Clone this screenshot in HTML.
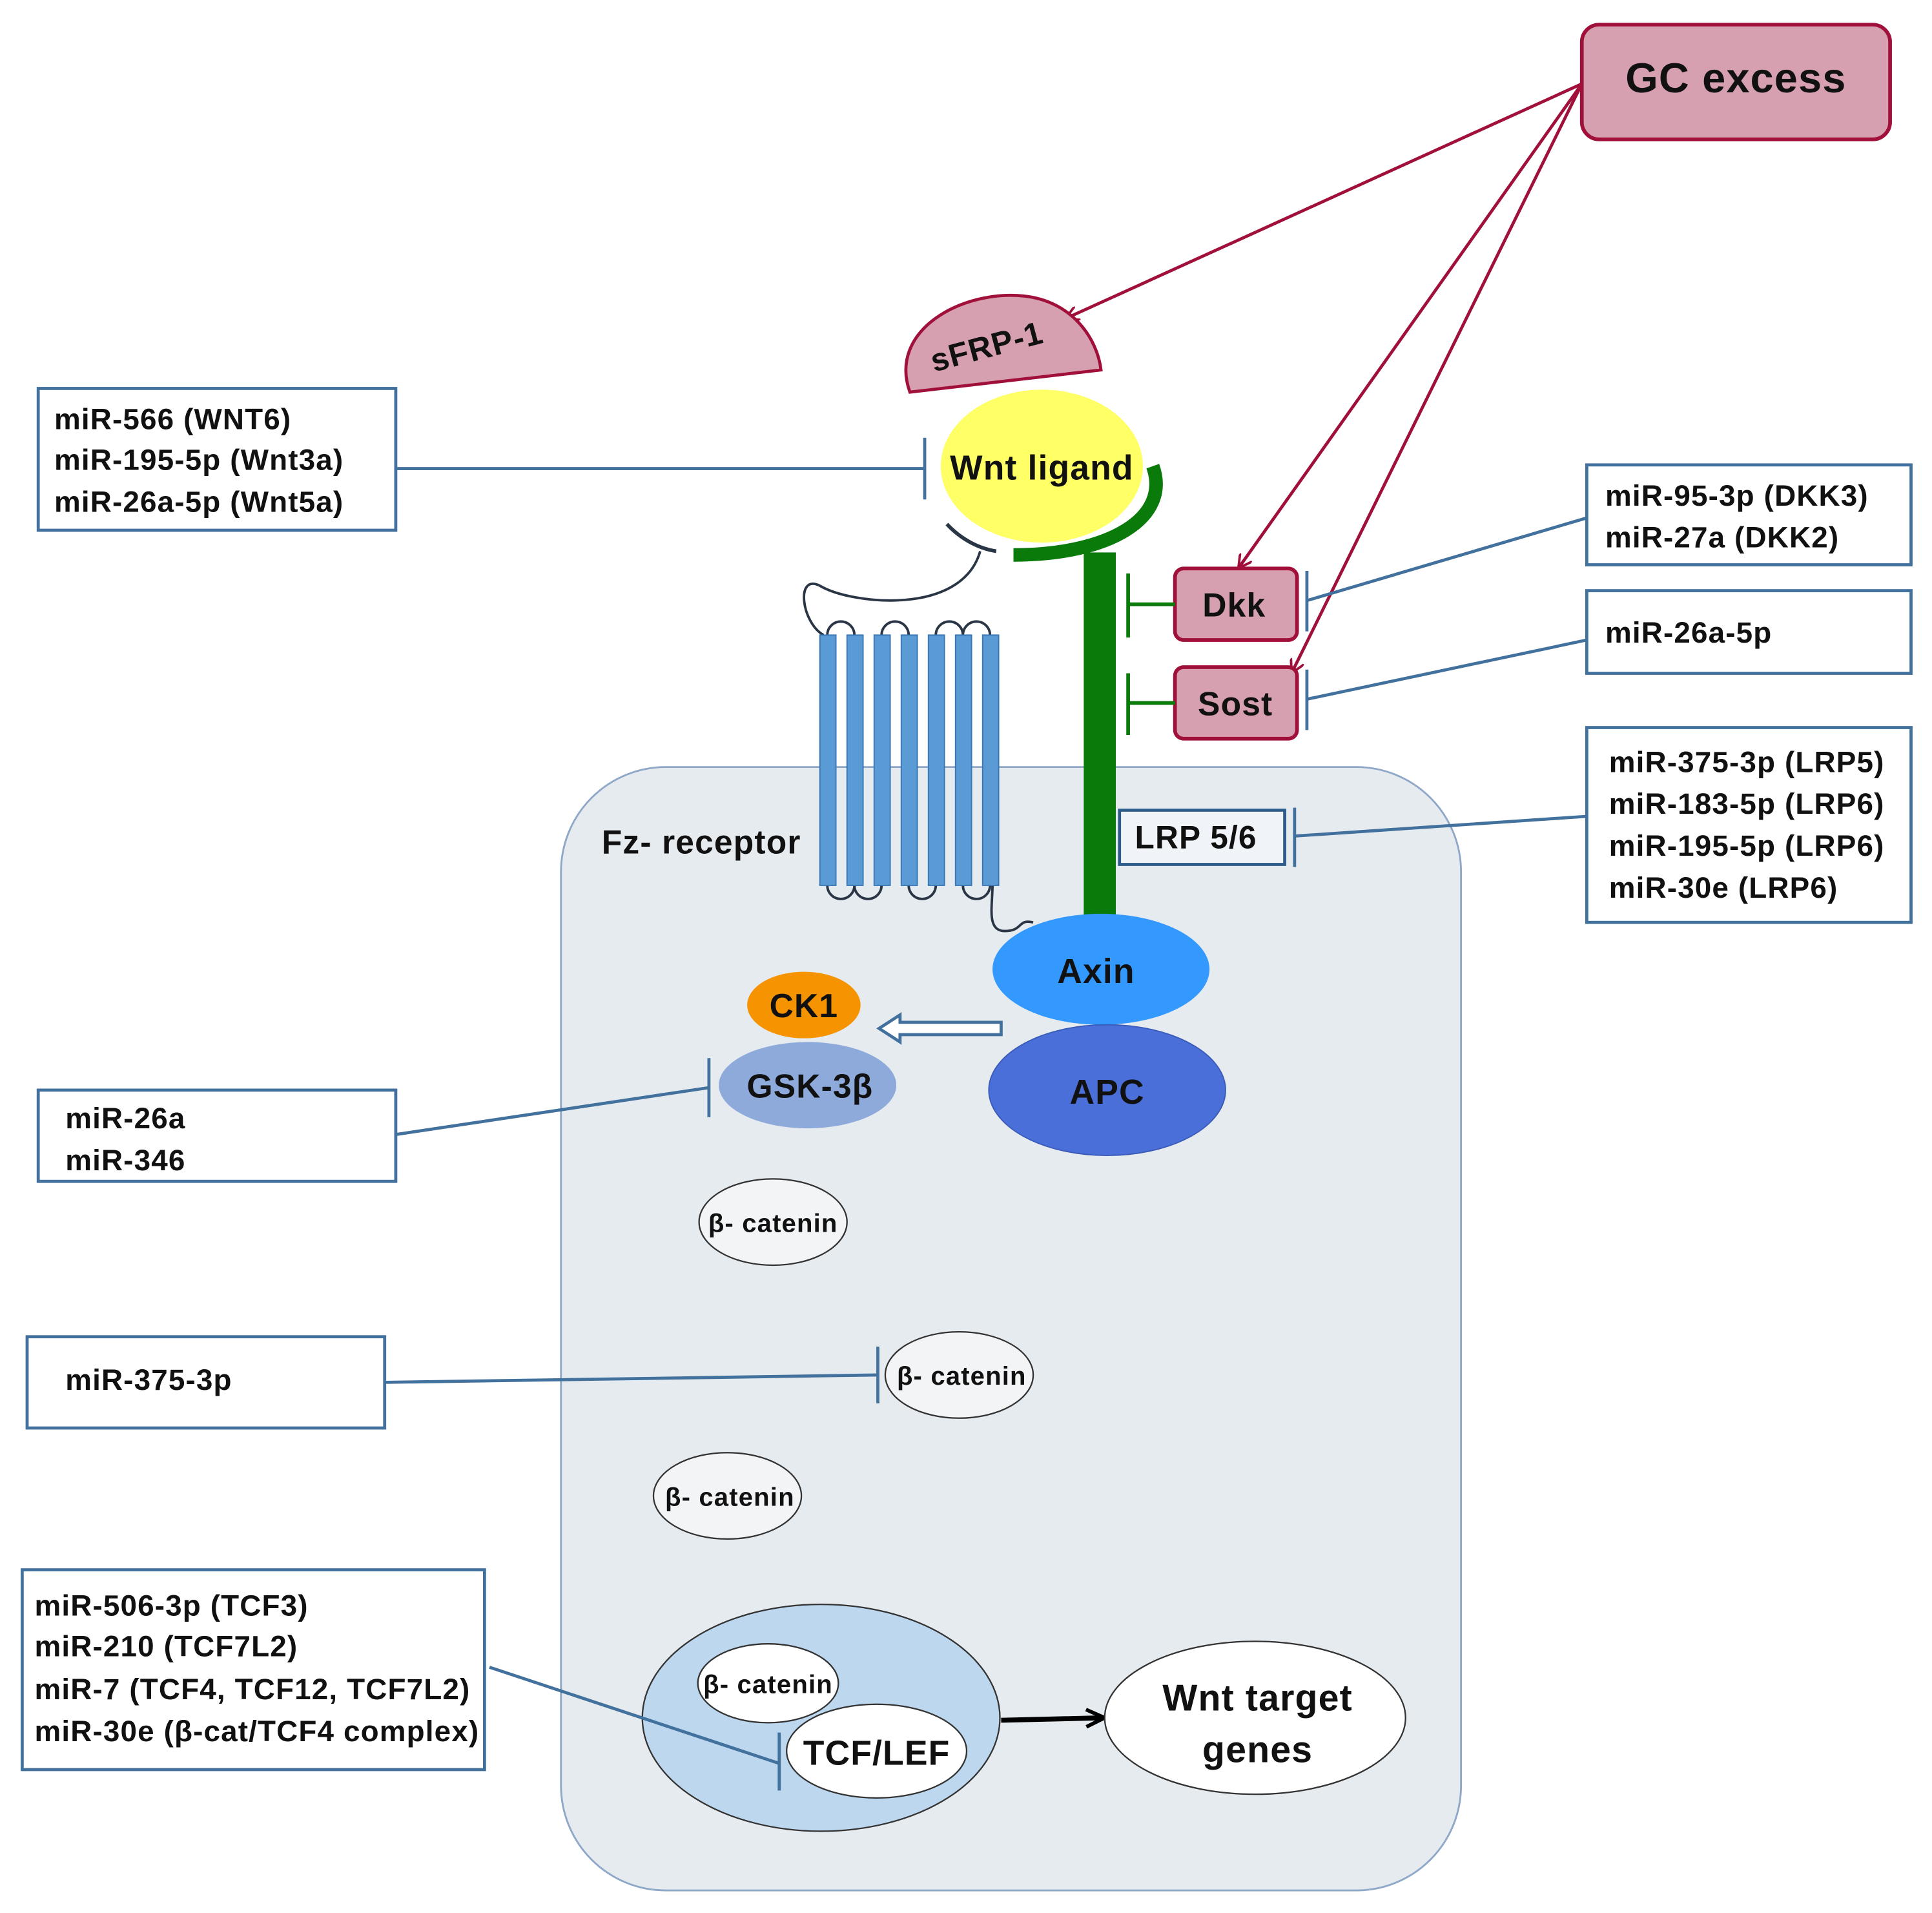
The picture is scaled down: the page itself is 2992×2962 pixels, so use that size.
<!DOCTYPE html>
<html><head><meta charset="utf-8"><style>html,body{margin:0;padding:0;background:#fff}svg{display:block}text{font-family:"Liberation Sans",sans-serif;font-weight:bold;fill:#111;letter-spacing:0.6px}</style></head>
<body>
<svg width="2992" height="2962" viewBox="0 0 1567 1551.3" preserveAspectRatio="none" xmlns="http://www.w3.org/2000/svg">
<defs>
<marker id="ar" markerWidth="12" markerHeight="12" refX="10" refY="6" orient="auto" markerUnits="userSpaceOnUse"><path d="M0,0 L11,6 L0,12" fill="none" stroke="#a0103a" stroke-width="2"/></marker>
<marker id="ab" markerWidth="20" markerHeight="20" refX="16" refY="10" orient="auto" markerUnits="userSpaceOnUse"><path d="M2,3 L17,10 L2,17" fill="none" stroke="#000" stroke-width="3"/></marker>
</defs>
<rect x="455" y="622" width="730" height="911" rx="85" fill="#e6ebf0" stroke="#8fa8c8" stroke-width="1.5"/>
<rect x="1283" y="20" width="250" height="93" rx="14" fill="#d6a0b0" stroke="#a0103a" stroke-width="3"/>
<text x="1408" y="75" font-size="34" text-anchor="middle">GC excess</text>
<line x1="1283" y1="68" x2="865" y2="258" stroke="#a0103a" stroke-width="2.5" marker-end="url(#ar)"/>
<line x1="1283" y1="68" x2="1005" y2="460" stroke="#a0103a" stroke-width="2.5" marker-end="url(#ar)"/>
<line x1="1283" y1="68" x2="1048" y2="545" stroke="#a0103a" stroke-width="2.5" marker-end="url(#ar)"/>
<path d="M738,318 C720,268 780,235 830,240 C870,244 890,275 893,300 Z" fill="#d6a0b0" stroke="#a0103a" stroke-width="2.5"/>
<text x="800" y="290" font-size="26" text-anchor="middle" transform="rotate(-15 800 280)">sFRP-1</text>
<ellipse cx="845" cy="378" rx="82" ry="62" fill="#ffff66"/>
<text x="845" y="389" font-size="28" text-anchor="middle">Wnt ligand</text>
<path d="M935,378 C950,420 900,450 822,450" fill="none" stroke="#0a7a0a" stroke-width="11"/>
<rect x="879" y="448" width="26" height="297" fill="#0a7a0a"/>
<path d="M768,425 C780,438 795,445 808,447" fill="none" stroke="#2a3545" stroke-width="3"/>
<path d="M795,447 C780,500 690,490 665,475 C645,465 650,505 668,515" fill="none" stroke="#2a3545" stroke-width="2"/>
<path d="M805,718 C805,735 800,755 815,755 C830,755 825,745 838,748" fill="none" stroke="#2a3545" stroke-width="2"/>
<g fill="none" stroke="#2a3545" stroke-width="2">
<path d="M671,515 a11,11 0 0 1 22,0"/><path d="M715,515 a11,11 0 0 1 22,0"/><path d="M759,515 a11,11 0 0 1 22,0"/><path d="M781,515 a11,11 0 0 1 22,0"/>
<path d="M693,718 a11,11 0 0 0 22,0"/><path d="M737,718 a11,11 0 0 0 22,0"/><path d="M781,718 a11,11 0 0 0 22,0"/><path d="M671,718 a11,11 0 0 0 22,0"/>
</g>
<g fill="#5b9bd5" stroke="#3a78b5" stroke-width="1">
<rect x="665" y="515" width="13" height="203"/><rect x="687" y="515" width="13" height="203"/><rect x="709" y="515" width="13" height="203"/><rect x="731" y="515" width="13" height="203"/><rect x="753" y="515" width="13" height="203"/><rect x="775" y="515" width="13" height="203"/><rect x="797" y="515" width="13" height="203"/>
</g>
<text x="488" y="692" font-size="27">Fz- receptor</text>
<rect x="953" y="461" width="99" height="58" rx="7" fill="#d6a0b0" stroke="#a0103a" stroke-width="3"/>
<text x="1001" y="500" font-size="27" text-anchor="middle">Dkk</text>
<rect x="953" y="541" width="99" height="58" rx="7" fill="#d6a0b0" stroke="#a0103a" stroke-width="3"/>
<text x="1002" y="580" font-size="27" text-anchor="middle">Sost</text>
<g stroke="#0a7a0a" stroke-width="3"><line x1="953" y1="490" x2="915" y2="490"/><line x1="915" y1="465" x2="915" y2="517"/><line x1="953" y1="570" x2="915" y2="570"/><line x1="915" y1="546" x2="915" y2="596"/></g>
<rect x="908" y="657" width="134" height="44" fill="#f0f3f7" stroke="#2e5c8a" stroke-width="2.5"/>
<text x="970" y="688" font-size="26" text-anchor="middle">LRP 5/6</text>
<ellipse cx="893" cy="786" rx="88" ry="45" fill="#3399ff"/>
<text x="889" y="797" font-size="28" text-anchor="middle">Axin</text>
<ellipse cx="898" cy="884" rx="96" ry="53" fill="#4a6fd8" stroke="#3a5bb8" stroke-width="1"/>
<text x="898" y="895" font-size="28" text-anchor="middle">APC</text>
<ellipse cx="652" cy="815" rx="46" ry="27" fill="#f59300"/>
<text x="652" y="825" font-size="27" text-anchor="middle">CK1</text>
<ellipse cx="655" cy="880" rx="72" ry="35" fill="#8eaadb"/>
<text x="657" y="890" font-size="27" text-anchor="middle">GSK-3β</text>
<path d="M812,829 L730,829 L730,823 L713,834 L730,845 L730,839 L812,839 Z" fill="#fff" stroke="#41719c" stroke-width="2.5"/>
<g fill="#f2f4f6" stroke="#333" stroke-width="1.2"><ellipse cx="627" cy="991" rx="60" ry="35"/><ellipse cx="778" cy="1115" rx="60" ry="35"/><ellipse cx="590" cy="1213" rx="60" ry="35"/></g>
<text x="627" y="999" font-size="21" text-anchor="middle">β- catenin</text>
<text x="780" y="1123" font-size="21" text-anchor="middle">β- catenin</text>
<text x="592" y="1221" font-size="21" text-anchor="middle">β- catenin</text>
<ellipse cx="666" cy="1393" rx="145" ry="92" fill="#bdd7ee" stroke="#333" stroke-width="1.2"/>
<ellipse cx="623" cy="1365" rx="57" ry="32" fill="#fff" stroke="#333" stroke-width="1.2"/>
<text x="623" y="1373" font-size="21" text-anchor="middle">β- catenin</text>
<ellipse cx="711" cy="1420" rx="73" ry="38" fill="#fff" stroke="#333" stroke-width="1.2"/>
<text x="711" y="1431" font-size="28" text-anchor="middle">TCF/LEF</text>
<line x1="812" y1="1395" x2="895" y2="1393" stroke="#000" stroke-width="4" marker-end="url(#ab)"/>
<ellipse cx="1018" cy="1393" rx="122" ry="62" fill="#fff" stroke="#333" stroke-width="1.2"/>
<text x="1020" y="1387" font-size="30" text-anchor="middle">Wnt target</text>
<text x="1020" y="1429" font-size="30" text-anchor="middle">genes</text>
<g fill="#fff" stroke="#41719c" stroke-width="2.5">
<rect x="31" y="315" width="290" height="115"/><rect x="31" y="884" width="290" height="74"/><rect x="22" y="1084" width="290" height="74"/><rect x="18" y="1273" width="375" height="162"/>
<rect x="1287" y="377" width="263" height="81"/><rect x="1287" y="479" width="263" height="67"/><rect x="1287" y="590" width="263" height="158"/>
</g>
<g font-size="24">
<text x="44" y="348">miR-566 (WNT6)</text><text x="44" y="381">miR-195-5p (Wnt3a)</text><text x="44" y="415">miR-26a-5p (Wnt5a)</text>
<text x="53" y="915">miR-26a</text><text x="53" y="949">miR-346</text>
<text x="53" y="1127">miR-375-3p</text>
<text x="28" y="1310">miR-506-3p (TCF3)</text><text x="28" y="1343">miR-210  (TCF7L2)</text><text x="28" y="1378">miR-7  (TCF4, TCF12, TCF7L2)</text><text x="28" y="1412">miR-30e (β-cat/TCF4 complex)</text>
<text x="1302" y="410">miR-95-3p (DKK3)</text><text x="1302" y="444">miR-27a (DKK2)</text>
<text x="1302" y="521">miR-26a-5p</text>
<text x="1305" y="626">miR-375-3p (LRP5)</text><text x="1305" y="660">miR-183-5p (LRP6)</text><text x="1305" y="694">miR-195-5p (LRP6)</text><text x="1305" y="728">miR-30e (LRP6)</text>
</g>
<g stroke="#41719c" stroke-width="2.5">
<line x1="321" y1="380" x2="750" y2="380"/><line x1="750" y1="355" x2="750" y2="405"/>
<line x1="321" y1="920" x2="575" y2="882"/><line x1="575" y1="858" x2="575" y2="906"/>
<line x1="312" y1="1121" x2="712" y2="1115"/><line x1="712" y1="1092" x2="712" y2="1138"/>
<line x1="397" y1="1352" x2="632" y2="1430"/><line x1="632" y1="1405" x2="632" y2="1452"/>
<line x1="1287" y1="420" x2="1060" y2="487"/><line x1="1060" y1="463" x2="1060" y2="512"/>
<line x1="1287" y1="519" x2="1060" y2="567"/><line x1="1060" y1="543" x2="1060" y2="592"/>
<line x1="1287" y1="662" x2="1050" y2="678"/><line x1="1050" y1="655" x2="1050" y2="703"/>
</g>
</svg>
</body></html>
